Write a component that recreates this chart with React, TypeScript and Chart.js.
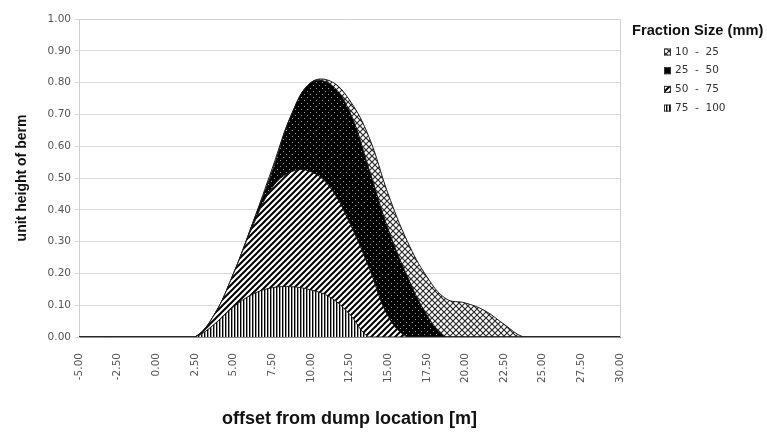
import React, { useEffect, useRef } from 'react';
import { Chart, registerables } from 'chart.js';

Chart.register(...registerables);

// offset from dump location [m]
const offsets = [-5, -3.75, -2.5, -1.25, 0, 1.25, 2.5, 3.75, 5, 6.25, 7.5, 8.75, 10, 11.25, 12.5, 13.75, 15, 16.25, 17.5, 18.75, 20, 21.25, 22.5, 23.75, 25, 26.25, 27.5, 28.75, 30];

// unit height of berm per fraction size
const size10to25 = [0, 0, 0, 0, 0, 0, 0, 0.07, 0.2, 0.36, 0.53, 0.7, 0.8, 0.805, 0.745, 0.63, 0.45, 0.3, 0.19, 0.12, 0.107, 0.083, 0.04, 0, 0, 0, 0, 0, 0];
const size25to50 = [0, 0, 0, 0, 0, 0, 0, 0.07, 0.2, 0.36, 0.52, 0.7, 0.8, 0.795, 0.71, 0.53, 0.34, 0.19, 0.07, 0, 0, 0, 0, 0, 0, 0, 0, 0, 0];
const size50to75 = [0, 0, 0, 0, 0, 0, 0, 0.07, 0.2, 0.35, 0.47, 0.52, 0.52, 0.47, 0.36, 0.22, 0.065, 0, 0, 0, 0, 0, 0, 0, 0, 0, 0, 0, 0];
const size75to100 = [0, 0, 0, 0, 0, 0, 0, 0.04, 0.095, 0.135, 0.155, 0.158, 0.148, 0.125, 0.072, 0, 0, 0, 0, 0, 0, 0, 0, 0, 0, 0, 0, 0, 0];

const seriesLabels = ['10  -  25', '25  -  50', '50  -  75', '75  -  100'];
const seriesPatterns = ['crosshatch', 'dots', 'diagonal', 'vertical'];
const legendTitle = 'Fraction Size (mm)';
const xTitle = 'offset from dump location [m]';
const yTitle = 'unit height of berm';
const xMin = -5;
const xMax = 30;
const xStep = 2.5;
const yMin = 0;
const yMax = 1;
const yStep = 0.1;

function makePattern(target: CanvasRenderingContext2D, kind: string): CanvasPattern | string {
  const c = document.createElement('canvas');
  const s = kind === 'vertical' ? 3 : 6;
  c.width = s;
  c.height = s;
  const g = c.getContext('2d');
  if (!g) return '#888';
  g.fillStyle = kind === 'dots' ? '#000' : '#fff';
  g.fillRect(0, 0, s, s);
  if (kind === 'crosshatch') {
    g.strokeStyle = '#2a2a2a';
    g.lineWidth = 1.2;
    g.beginPath();
    g.moveTo(-1, -1);
    g.lineTo(s + 1, s + 1);
    g.moveTo(s + 1, -1);
    g.lineTo(-1, s + 1);
    g.stroke();
  } else if (kind === 'dots') {
    g.fillStyle = '#a0a0a0';
    g.fillRect(1, 1, 1, 1);
    g.fillRect(4, 4, 1, 1);
  } else if (kind === 'diagonal') {
    g.strokeStyle = '#000';
    g.lineWidth = 2;
    g.beginPath();
    g.moveTo(-1, s + 1);
    g.lineTo(s + 1, -1);
    g.moveTo(-1, 1);
    g.lineTo(1, -1);
    g.moveTo(s - 1, s + 1);
    g.lineTo(s + 1, s - 1);
    g.stroke();
  } else {
    g.fillStyle = '#000';
    g.fillRect(0, 0, 1, s);
    g.fillStyle = '#999';
    g.fillRect(1, 0, 1, s);
  }
  return target.createPattern(c, 'repeat') || '#888';
}

const frameAndLegend = {
  id: 'frameAndLegend',
  beforeDatasetsDraw(chart: any) {
    const { ctx, chartArea: a } = chart;
    ctx.save();
    ctx.strokeStyle = '#d0d0d0';
    ctx.lineWidth = 1;
    ctx.beginPath();
    ctx.moveTo(a.left, a.top + 0.5);
    ctx.lineTo(a.right + 0.5, a.top + 0.5);
    ctx.lineTo(a.right + 0.5, a.bottom);
    ctx.stroke();
    ctx.restore();
  },
  afterDraw(chart: any) {
    const { ctx, chartArea: a } = chart;
    const x0 = a.right + 12;
    ctx.save();
    ctx.textBaseline = 'middle';
    ctx.textAlign = 'left';
    ctx.fillStyle = '#111';
    ctx.font = 'bold 14.7px "Liberation Sans", Arial, sans-serif';
    ctx.fillText(legendTitle, x0, a.top + 12);
    ctx.font = '10.5px "DejaVu Sans", sans-serif';
    chart.data.datasets.forEach((ds: any, i: number) => {
      const y = a.top + 33 + i * 18.7;
      ctx.fillStyle = ds.backgroundColor;
      ctx.fillRect(x0 + 32, y - 3.5, 7, 7);
      ctx.strokeStyle = '#333';
      ctx.lineWidth = 1;
      ctx.strokeRect(x0 + 32.5, y - 3, 6, 6);
      ctx.fillStyle = '#333';
      ctx.fillText(ds.label, x0 + 43, y);
    });
    ctx.restore();
  },
};

export default function App() {
  const ref = useRef<HTMLCanvasElement>(null);

  useEffect(() => {
    document.body.style.margin = '0';
    const canvas = ref.current;
    if (!canvas) return;
    const ctx = canvas.getContext('2d');
    if (!ctx) return;
    const series = [size10to25, size25to50, size50to75, size75to100];
    const datasets = series.map((vals, i) => ({
      label: seriesLabels[i],
      data: offsets.map((x, j) => ({ x, y: vals[j] })),
      backgroundColor: makePattern(ctx, seriesPatterns[i]),
      borderColor: '#1a1a1a',
      borderWidth: 1,
      fill: 'origin',
      pointRadius: 0,
      tension: 0.4,
      order: series.length - i,
    }));

    const tickFont = { family: '"DejaVu Sans", sans-serif', size: 10.5 };

    const chart = new Chart(canvas, {
      type: 'line',
      data: { datasets },
      plugins: [frameAndLegend],
      options: {
        animation: false,
        responsive: true,
        maintainAspectRatio: false,
        layout: { padding: { top: 19, right: 147, left: 0, bottom: 0 } },
        elements: { line: { capBezierPoints: true } },
        plugins: {
          legend: { display: false },
          tooltip: { enabled: false },
        },
        scales: {
          x: {
            type: 'linear',
            min: xMin,
            max: xMax,
            afterFit: (s: any) => {
              s.height = 95;
            },
            ticks: {
              stepSize: xStep,
              callback: (v: any) => Number(v).toFixed(2),
              minRotation: 90,
              maxRotation: 90,
              autoSkip: false,
              color: '#555',
              font: tickFont,
              padding: 8,
            },
            grid: { display: false },
            border: { display: true, color: '#8c8c8c', width: 1 },
            title: {
              display: true,
              text: xTitle,
              color: '#111',
              font: { family: '"Liberation Sans", Arial, sans-serif', size: 18, weight: 'bold' },
              padding: { top: 0, bottom: 2 },
            },
          },
          y: {
            min: yMin,
            max: yMax,
            afterFit: (s: any) => {
              s.width = 79;
            },
            ticks: {
              stepSize: yStep,
              callback: (v: any) => Number(v).toFixed(2),
              color: '#555',
              font: tickFont,
              padding: 4,
            },
            grid: { color: '#d9d9d9', tickLength: 4 },
            border: { display: true, color: '#d0d0d0' },
            title: {
              display: true,
              text: yTitle,
              color: '#111',
              font: { family: '"Liberation Sans", Arial, sans-serif', size: 14, weight: 'bold' },
              padding: { top: 14, bottom: 0 },
            },
          },
        },
      },
    } as any);

    return () => chart.destroy();
  }, []);

  return (
    <div style={{ width: 767, height: 432, position: 'relative', background: '#fff' }}>
      <canvas ref={ref} />
    </div>
  );
}
